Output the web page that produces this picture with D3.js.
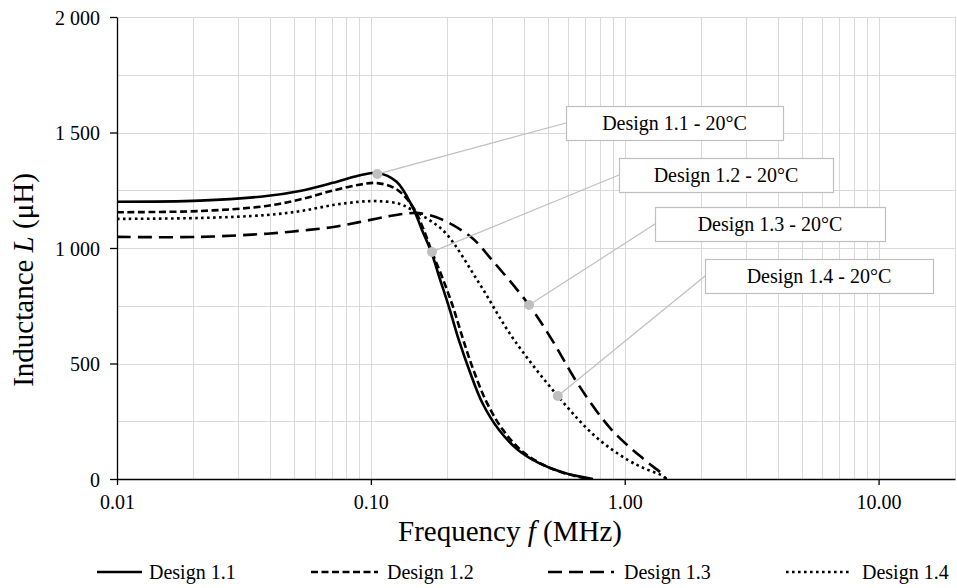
<!DOCTYPE html>
<html>
<head>
<meta charset="utf-8">
<script src="https://cdn.jsdelivr.net/npm/d3@7"></script>
<style>
html,body{margin:0;padding:0;background:#fff;}
svg{display:block;}
text{font-family:"Liberation Serif","Times New Roman",serif;fill:#000;}
</style>
</head>
<body>
<svg id="chart" width="957" height="588"></svg>
<script>
// ---------------- data ----------------
const seriesNames = ["Design 1.1", "Design 1.2", "Design 1.3", "Design 1.4"];

const freq11 = [0.01, 0.0212, 0.0388, 0.0525, 0.0706, 0.0899, 0.106, 0.126, 0.146, 0.159, 0.174, 0.186, 0.203, 0.222, 0.244, 0.275, 0.32, 0.38, 0.46, 0.58, 0.75];
const ind11  = [1200, 1205, 1225, 1247, 1282, 1314, 1325, 1288, 1177, 1078, 975, 874, 745, 602, 472, 329, 212, 126, 69, 26, 0];

const freq12 = [0.01, 0.0212, 0.0388, 0.0525, 0.0706, 0.09, 0.106, 0.126, 0.146, 0.16, 0.174, 0.19, 0.21, 0.23, 0.252, 0.285, 0.33, 0.39, 0.47, 0.58, 0.72];
const ind12  = [1155, 1160, 1182, 1210, 1248, 1274, 1281, 1255, 1180, 1090, 983, 880, 750, 610, 480, 335, 215, 125, 65, 25, 0];

const freq13 = [0.01, 0.0212, 0.039, 0.053, 0.071, 0.09, 0.106, 0.118, 0.135, 0.155, 0.19, 0.25, 0.30, 0.42, 0.52, 0.66, 0.89, 1.2, 1.39, 1.46];
const ind13  = [1048, 1048, 1062, 1075, 1091, 1112, 1128, 1138, 1148, 1151, 1124, 1044, 948, 753, 598, 405, 212, 82, 26, 0];

const freq14 = [0.01, 0.0212, 0.039, 0.053, 0.071, 0.09, 0.106, 0.129, 0.146, 0.17, 0.198, 0.267, 0.36, 0.545, 0.77, 1.03, 1.2, 1.39, 1.46];
const ind14  = [1126, 1130, 1143, 1160, 1186, 1200, 1203, 1192, 1164, 1121, 1062, 848, 615, 359, 182, 82, 45, 17, 0];

const calloutLabels = ["Design 1.1 - 20°C", "Design 1.2 - 20°C", "Design 1.3 - 20°C", "Design 1.4 - 20°C"];
const calloutFreq   = [0.106, 0.174, 0.42, 0.545];
const calloutInd    = [1320, 983, 753, 359];

const xTickValues = [0.01, 0.1, 1, 10];
const xTickLabels = ["0.01", "0.10", "1.00", "10.00"];
const yTickValues = [0, 500, 1000, 1500, 2000];
const yTickLabels = ["0", "500", "1 000", "1 500", "2 000"];

// ---------------- layout / style ----------------
const plot = {left: 117, right: 955, top: 17, bottom: 479};
const styles = [
  {dash: null, width: 2.6},
  {dash: "7,3.5", width: 2.6},
  {dash: "14,7", width: 2.6},
  {dash: "2.6,3.4", width: 2.6}
];
// callout boxes: [x, y, w, h]
const boxes = [
  [566, 106, 217, 34],
  [619, 158, 214, 34],
  [655, 207, 230, 34],
  [705, 259, 228, 34]
];
const legendPos = [
  {x1: 97, x2: 142, tx: 149},
  {x1: 311, x2: 378, tx: 387},
  {x1: 548, x2: 614, tx: 624},
  {x1: 786, x2: 851, tx: 862}
];

const svg = d3.select("#chart");
const x = d3.scaleLog().domain([0.01, 20]).range([plot.left, plot.right]);
const y = d3.scaleLinear().domain([0, 2000]).range([plot.bottom, plot.top]);

// grid
const vGrid = [];
[0.01, 0.1, 1, 10].forEach(d => { for (let m = 1; m <= 9; m++) { const v = +(m * d).toPrecision(3); if (v > 0.01 && v <= 20) vGrid.push(v); } });
const gGrid = svg.append("g");
gGrid.selectAll("line.v").data(vGrid).join("line")
  .attr("x1", d => Math.round(x(d)) + 0.5).attr("x2", d => Math.round(x(d)) + 0.5)
  .attr("y1", plot.top).attr("y2", plot.bottom)
  .attr("stroke", "#d9d9d9").attr("stroke-width", 1);
gGrid.selectAll("line.h").data(d3.range(250, 2001, 250)).join("line")
  .attr("x1", plot.left).attr("x2", plot.right)
  .attr("y1", d => Math.round(y(d)) + 0.5).attr("y2", d => Math.round(y(d)) + 0.5)
  .attr("stroke", "#d9d9d9").attr("stroke-width", 1);

// axes
const xAxis = d3.axisBottom(x).tickValues(xTickValues).tickSize(6).tickSizeOuter(0)
  .tickFormat((d, i) => xTickLabels[i]);
const gx = svg.append("g").attr("transform", `translate(0,${plot.bottom})`).call(xAxis);
gx.select(".domain").attr("stroke", "#000").attr("stroke-width", 1.3);
gx.selectAll(".tick line").attr("stroke", "#000").attr("stroke-width", 1.3);
gx.selectAll(".tick text").attr("font-size", 20).attr("y", 16).attr("dy", "0.71em")
  .style("font-family", "'Liberation Serif','Times New Roman',serif");

const yAxis = d3.axisLeft(y).tickValues(yTickValues).tickSize(7).tickSizeOuter(0)
  .tickFormat((d, i) => yTickLabels[i]);
const gy = svg.append("g").attr("transform", `translate(${plot.left},0)`).call(yAxis);
gy.select(".domain").attr("stroke", "#000").attr("stroke-width", 1.3);
gy.selectAll(".tick line").attr("stroke", "#000").attr("stroke-width", 1.3);
gy.selectAll(".tick text").attr("font-size", 20).attr("x", -17).attr("dy", "0.35em")
  .style("font-family", "'Liberation Serif','Times New Roman',serif");

// axis titles
const xt = svg.append("text").attr("x", 510).attr("y", 541).attr("text-anchor", "middle").attr("font-size", 29);
xt.append("tspan").text("Frequency ");
xt.append("tspan").attr("font-style", "italic").text("f");
xt.append("tspan").text(" (MHz)");

const yt = svg.append("text").attr("transform", "translate(33,280) rotate(-90)").attr("text-anchor", "middle").attr("font-size", 29);
yt.append("tspan").text("Inductance ");
yt.append("tspan").attr("font-style", "italic").text("L");
yt.append("tspan").text(" (μH)");

// series
const seriesData = [
  d3.zip(freq11, ind11), d3.zip(freq12, ind12), d3.zip(freq13, ind13), d3.zip(freq14, ind14)
];
const line = d3.line().x(d => x(d[0])).y(d => y(d[1])).curve(d3.curveCatmullRom.alpha(0.5));
svg.append("clipPath").attr("id", "clip").append("rect")
  .attr("x", plot.left).attr("y", plot.top - 5).attr("width", plot.right - plot.left).attr("height", plot.bottom - plot.top + 5);
svg.append("g").attr("clip-path", "url(#clip)").selectAll("path").data(seriesData).join("path")
  .attr("d", line)
  .attr("fill", "none").attr("stroke", "#000")
  .attr("stroke-width", (d, i) => styles[i].width)
  .attr("stroke-dasharray", (d, i) => styles[i].dash)
  .attr("stroke-linejoin", "round");

// callouts
const gc = svg.append("g");
calloutLabels.forEach((lab, i) => {
  const px = x(calloutFreq[i]), py = y(calloutInd[i]);
  const b = boxes[i];
  gc.append("line").attr("x1", px).attr("y1", py).attr("x2", b[0]).attr("y2", b[1] + b[3] / 2)
    .attr("stroke", "#bfbfbf").attr("stroke-width", 1.2);
  gc.append("circle").attr("cx", px).attr("cy", py).attr("r", 5).attr("fill", "#bfbfbf");
  gc.append("rect").attr("x", b[0] + 0.5).attr("y", b[1] + 0.5).attr("width", b[2]).attr("height", b[3])
    .attr("fill", "#fff").attr("stroke", "#bfbfbf").attr("stroke-width", 1.2);
  gc.append("text").attr("x", b[0] + b[2] / 2).attr("y", b[1] + b[3] / 2 + 7)
    .attr("text-anchor", "middle").attr("font-size", 20).text(lab);
});

// legend
const gl = svg.append("g");
seriesNames.forEach((n, i) => {
  const p = legendPos[i];
  gl.append("line").attr("x1", p.x1).attr("x2", p.x2).attr("y1", 572).attr("y2", 572)
    .attr("stroke", "#000").attr("stroke-width", styles[i].width)
    .attr("stroke-dasharray", styles[i].dash);
  gl.append("text").attr("x", p.tx).attr("y", 579).attr("font-size", 20).text(n);
});
</script>
</body>
</html>
